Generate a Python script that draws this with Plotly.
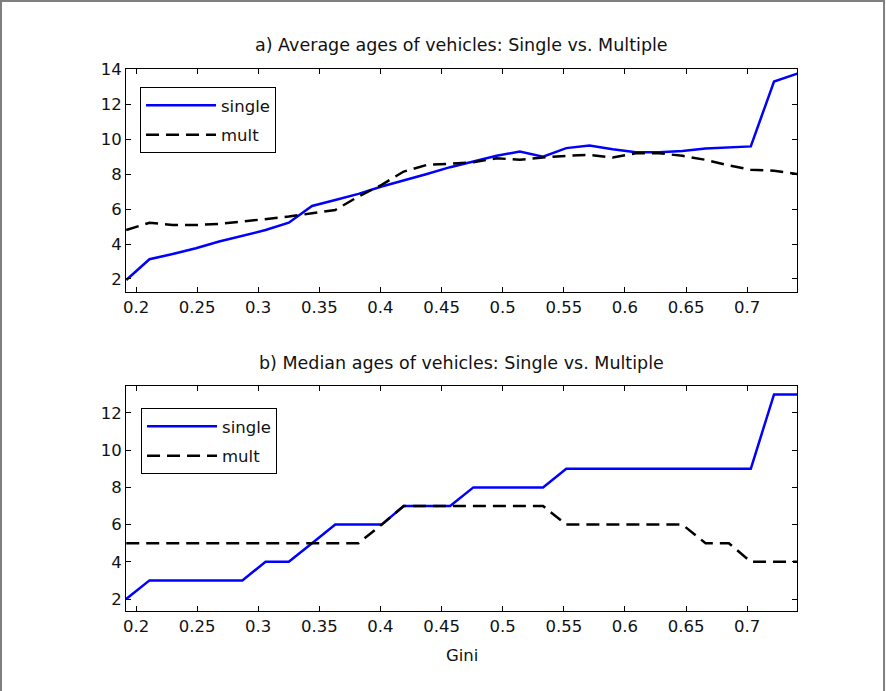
import plotly.graph_objects as go

# Gini values (sample grid)
gini = [0.192, 0.211, 0.230, 0.249, 0.268, 0.287, 0.306, 0.325, 0.344, 0.363,
        0.382, 0.401, 0.419, 0.438, 0.457, 0.476, 0.495, 0.514, 0.533, 0.552,
        0.571, 0.590, 0.609, 0.628, 0.647, 0.666, 0.685, 0.703, 0.722, 0.741]

# a) Average ages
avg_single = [1.94, 3.13, 3.43, 3.76, 4.14, 4.46, 4.80, 5.22, 6.18, 6.52,
              6.87, 7.29, 7.63, 8.01, 8.40, 8.72, 9.05, 9.30, 9.00, 9.49,
              9.64, 9.43, 9.26, 9.26, 9.33, 9.47, 9.52, 9.59, 13.30, 13.75]
avg_mult = [4.80, 5.22, 5.09, 5.09, 5.15, 5.28, 5.42, 5.57, 5.76, 5.95,
            6.72, 7.39, 8.15, 8.53, 8.60, 8.68, 8.91, 8.82, 8.95, 9.05,
            9.10, 8.95, 9.20, 9.20, 9.05, 8.82, 8.50, 8.25, 8.20, 8.01]

# b) Median ages
med_single = [2, 3, 3, 3, 3, 3, 4, 4, 5, 6,
              6, 6, 7, 7, 7, 8, 8, 8, 8, 9,
              9, 9, 9, 9, 9, 9, 9, 9, 13, 13]
med_mult = [5, 5, 5, 5, 5, 5, 5, 5, 5, 5,
            5, 6, 7, 7, 7, 7, 7, 7, 7, 6,
            6, 6, 6, 6, 6, 5, 5, 4, 4, 4]

xticks = [0.2, 0.25, 0.3, 0.35, 0.4, 0.45, 0.5, 0.55, 0.6, 0.65, 0.7]
xticktext = ["0.2", "0.25", "0.3", "0.35", "0.4", "0.45", "0.5", "0.55", "0.6", "0.65", "0.7"]
yticks_a = [2, 4, 6, 8, 10, 12, 14]
yticks_b = [2, 4, 6, 8, 10, 12]

titles = ["a) Average ages of vehicles: Single vs. Multiple",
          "b) Median ages of vehicles: Single vs. Multiple"]

FONT = "DejaVu Sans, Liberation Sans, Arial, sans-serif"
FS = 16.5
FS_TITLE = 17.5
single_line = dict(color="#0000FF", width=2.5)
mult_line = dict(color="#000000", width=2.5, dash="13px,7px")

fig = go.Figure()
fig.add_trace(go.Scatter(x=gini, y=avg_single, mode="lines", name="single",
                         line=single_line, xaxis="x", yaxis="y", legend="legend",
                         legendgroup="a_single"))
fig.add_trace(go.Scatter(x=gini, y=avg_mult, mode="lines", name="mult",
                         line=mult_line, xaxis="x", yaxis="y", legend="legend",
                         legendgroup="a_mult"))
fig.add_trace(go.Scatter(x=gini, y=med_single, mode="lines", name="single",
                         line=single_line, xaxis="x2", yaxis="y2", legend="legend2",
                         legendgroup="b_single"))
fig.add_trace(go.Scatter(x=gini, y=med_mult, mode="lines", name="mult",
                         line=mult_line, xaxis="x2", yaxis="y2", legend="legend2",
                         legendgroup="b_mult"))

axis_common = dict(showline=True, linecolor="#000000", linewidth=1, mirror="ticks",
                   ticks="inside", ticklen=5, tickcolor="#000000", showgrid=False,
                   zeroline=False, tickfont=dict(family=FONT, size=FS, color="#111111"))

legend_common = dict(bgcolor="#FFFFFF", bordercolor="#000000", borderwidth=1,
                     font=dict(family=FONT, size=FS, color="#111111"),
                     xanchor="left", yanchor="top", itemwidth=70,
                     entrywidth=66, entrywidthmode="pixels",
                     tracegroupgap=5)

fig.update_layout(
    width=886, height=691,
    margin=dict(l=126, r=89, t=69, b=80),
    paper_bgcolor="#FFFFFF", plot_bgcolor="#FFFFFF",
    showlegend=True,
    xaxis=dict(domain=[0, 1], anchor="y", range=[0.1918, 0.7408],
               tickvals=xticks, ticktext=xticktext, **axis_common),
    yaxis=dict(domain=[0.5886, 1.0], anchor="x", range=[1.255, 14.02],
               tickvals=yticks_a, **axis_common),
    xaxis2=dict(domain=[0, 1], anchor="y2", range=[0.1918, 0.7408],
                tickvals=xticks, ticktext=xticktext, **axis_common),
    yaxis2=dict(domain=[0, 0.4151], anchor="x2", range=[1.355, 13.45],
                tickvals=yticks_b, **axis_common),
    legend=dict(x=0.0209, y=0.9668, **legend_common),
    legend2=dict(x=0.0224, y=0.3745, **legend_common),
    annotations=[
        dict(text=titles[0], x=0.5, y=1.0443, xref="paper", yref="paper",
             showarrow=False, xanchor="center", yanchor="middle",
             font=dict(family=FONT, size=FS_TITLE, color="#111111")),
        dict(text=titles[1], x=0.5, y=0.4576, xref="paper", yref="paper",
             showarrow=False, xanchor="center", yanchor="middle",
             font=dict(family=FONT, size=FS_TITLE, color="#111111")),
        dict(text="Gini", x=0.5, y=-0.083, xref="paper", yref="paper",
             showarrow=False, xanchor="center", yanchor="middle",
             font=dict(family=FONT, size=FS, color="#111111")),
    ],
    shapes=[
        dict(type="path", xref="paper", yref="paper",
             path="M -0.1863,-0.16 L -0.1863,1.1255 L 1.1297,1.1255 L 1.1297,-0.16",
             line=dict(color="#7F7F7F", width=2)),
    ],
)

fig.write_html("out.html", config={"displayModeBar": False},
               post_script="document.body.style.margin='0px';")
